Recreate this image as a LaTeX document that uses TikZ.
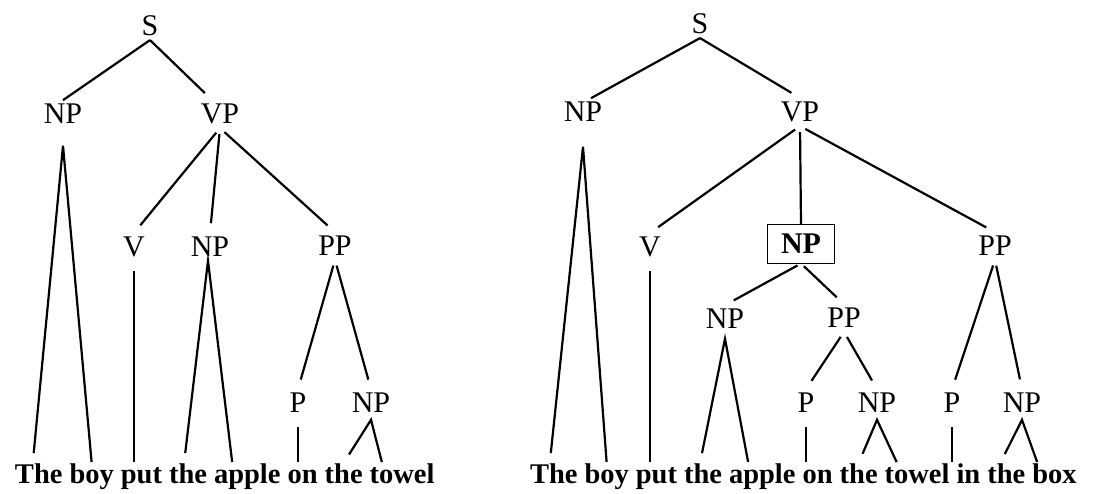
\documentclass[tikz,border=0pt]{standalone}
\usepackage{fontspec}
\setmainfont{Liberation Serif}
\usetikzlibrary{positioning}
\begin{document}
\begin{tikzpicture}[
    x=0.5pt,y=-0.5pt,
    synNode/.style={inner sep=1pt,outer sep=1pt,font=\fontsize{15}{17}\selectfont},
    synBox/.style={draw=black,line width=0.6pt,minimum width=33.5pt,minimum height=19.5pt,inner sep=0pt,outer sep=0pt,font=\bfseries\fontsize{15}{17}\selectfont},
    synWord/.style={inner sep=0pt,outer sep=0pt,text height=10pt,text depth=3pt,font=\bfseries\fontsize{14.25}{16}\selectfont},
    synEdge/.style={line width=1.1pt,shorten <=3pt,shorten >=5pt},
    synLeaf/.style={line width=1.1pt,shorten <=5pt,shorten >=0.5pt},
]
\useasboundingbox (0,0) rectangle (1093,493);
% left tree
\node[synNode] (lS) at (150,26) {S};
\node[synNode] (lNPa) at (63,114) {NP};
\node[synNode] (lVP) at (220,114) {VP};
\node[synNode] (lV) at (134,247) {V};
\node[synNode] (lNPb) at (210,247) {NP};
\node[synNode] (lPP) at (335,246) {PP};
\node[synNode] (lP) at (298,403) {P};
\node[synNode] (lNPc) at (371,403) {NP};
\node[synWord,anchor=base west] (lw1) at (15,483) {The};
\node[synWord,base right=3.5pt of lw1] (lw2) {boy};
\node[synWord,base right=3.5pt of lw2] (lw3) {put};
\node[synWord,base right=3.5pt of lw3] (lw4) {the};
\node[synWord,base right=3.5pt of lw4] (lw5) {apple};
\node[synWord,base right=3.5pt of lw5] (lw6) {on};
\node[synWord,base right=3.5pt of lw6] (lw7) {the};
\node[synWord,base right=3.5pt of lw7] (lw8) {towel};
\draw[synEdge,shorten <=0pt,shorten >=0pt] (lS.south) -- (lNPa.north);
\draw[synEdge,shorten <=0pt] (lS.south) -- ([xshift=-4pt]lVP.north);
\draw[synEdge] (lVP.south) -- (lV.north);
\draw[synEdge] (lVP.south) -- (lNPb.north);
\draw[synEdge] (lVP.south) -- (lPP.north);
\draw[synEdge] (lPP.south) -- (lP.north);
\draw[synEdge] (lPP.south) -- (lNPc.north);
\draw[synLeaf] ([xshift=-3pt]lw1.north) -- ([yshift=-9pt]lNPa.south) -- (lw2.north);
\draw[synLeaf] (lV.south) -- (lV.south |- lw3.north);
\draw[synLeaf] ([xshift=-2pt]lw4.north) -- ([xshift=-1pt]lNPb.south) -- ([xshift=-7.5pt]lw5.north);
\draw[synLeaf] (lP.south) -- (lP.south |- lw6.north);
\draw[synLeaf] (lw7.north) -- ([yshift=-1.5pt]lNPc.south) -- ([xshift=-10pt]lw8.north);
% right tree
\node[synNode] (rS) at (700,24) {S};
\node[synNode] (rNPa) at (583,112) {NP};
\node[synNode] (rVP) at (800,112) {VP};
\node[synNode] (rV) at (650,247) {V};
\node[synBox] (rNPb) at (801,244) {NP};
\node[synNode] (rPP) at (995,246) {PP};
\node[synNode] (rNPc) at (725,319) {NP};
\node[synNode] (rPPb) at (844,318) {PP};
\node[synNode] (rPa) at (806,403) {P};
\node[synNode] (rNPd) at (877,403) {NP};
\node[synNode] (rPb) at (952,403) {P};
\node[synNode] (rNPe) at (1022,403) {NP};
\node[synWord,anchor=base west] (rw1) at (530,483) {The};
\node[synWord,base right=3.5pt of rw1] (rw2) {boy};
\node[synWord,base right=3.5pt of rw2] (rw3) {put};
\node[synWord,base right=3.5pt of rw3] (rw4) {the};
\node[synWord,base right=3.5pt of rw4] (rw5) {apple};
\node[synWord,base right=3.5pt of rw5] (rw6) {on};
\node[synWord,base right=3.5pt of rw6] (rw7) {the};
\node[synWord,base right=3.5pt of rw7] (rw8) {towel};
\node[synWord,base right=3.5pt of rw8] (rw9) {in};
\node[synWord,base right=3.5pt of rw9] (rw10) {the};
\node[synWord,base right=3.5pt of rw10] (rw11) {box};
\draw[synEdge,shorten <=0pt,shorten >=0pt] (rS.south) -- ([xshift=4pt]rNPa.north);
\draw[synEdge,shorten <=0pt] (rS.south) -- (rVP.north);
\draw[synEdge] (rVP.south) -- (rV.north);
\draw[synEdge,shorten >=0pt] (rVP.south) -- (rNPb.north);
\draw[synEdge] (rVP.south) -- (rPP.north);
\draw[synEdge,shorten <=2pt] (rNPb.south) -- (rNPc.north);
\draw[synEdge,shorten <=2pt] (rNPb.south) -- (rPPb.north);
\draw[synEdge] (rPPb.south) -- (rPa.north);
\draw[synEdge] (rPPb.south) -- (rNPd.north);
\draw[synEdge] (rPP.south) -- (rPb.north);
\draw[synEdge] (rPP.south) -- (rNPe.north);
\draw[synLeaf] ([xshift=-2pt]rw1.north) -- ([yshift=-10.5pt]rNPa.south) -- (rw2.north);
\draw[synLeaf] (rV.south) -- (rV.south |- rw3.north);
\draw[synLeaf] ([xshift=-1.5pt]rw4.north) -- ([yshift=-3pt]rNPc.south) -- ([xshift=-7pt]rw5.north);
\draw[synLeaf] (rPa.south) -- (rPa.south |- rw6.north);
\draw[synLeaf] (rw7.north) -- ([yshift=-1.5pt]rNPd.south) -- ([xshift=-10pt]rw8.north);
\draw[synLeaf] (rPb.south) -- (rPb.south |- rw9.north);
\draw[synLeaf] ([xshift=-3pt]rw10.north) -- ([yshift=-1.5pt]rNPe.south) -- ([xshift=-8.5pt]rw11.north);
\end{tikzpicture}
\end{document}
